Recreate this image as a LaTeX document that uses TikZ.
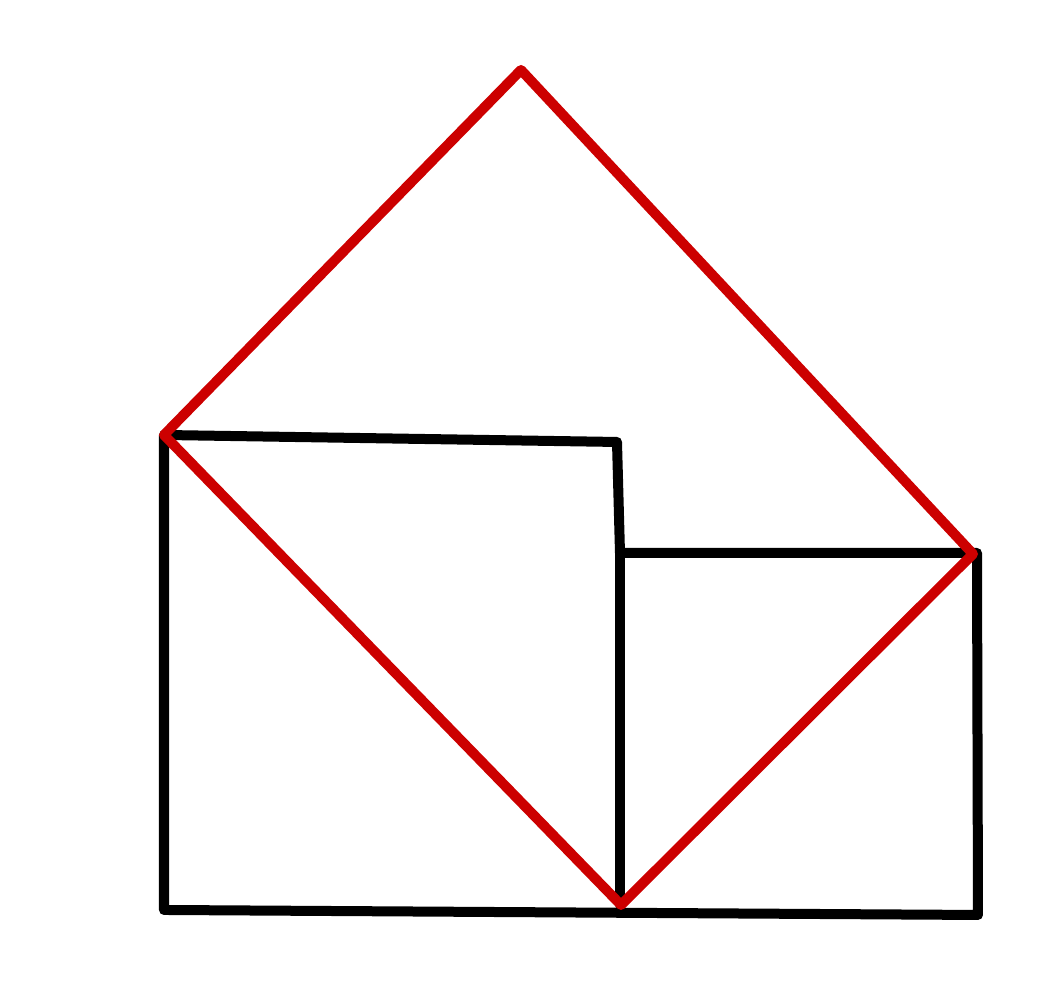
\documentclass[tikz,border=0pt]{standalone}
\usepackage{tikz}
\usetikzlibrary{
  calc
}
\tikzset{
  square edge/.style={
    line width=0.1cm, black, line join=round, line cap=round
  },
  tilted square/.style={
    line width=0.1cm, red!80!black, line join=round, line cap=round
  }
}

\begin{document}
\begin{tikzpicture}
\useasboundingbox (0,0) rectangle (10.38,10);
% corners of the two squares
\coordinate (topleft) at (1.64,5.65);
\coordinate (bend) at (6.17,5.58);
\coordinate (step) at (6.20,4.47);
\coordinate (rightcorner) at (9.77,4.47);
\coordinate (bottomright) at (9.78,0.85);
\coordinate (bottomleft) at (1.64,0.90);
\coordinate (middlefoot) at (6.20,0.95);
\coordinate (apex) at (5.21,9.30);
\coordinate (redright) at (9.73,4.46);
\coordinate (redfoot) at (6.21,0.95);
\draw [square edge] (topleft) -- (bend) -- (step) -- (rightcorner) -- (bottomright) -- (bottomleft) -- cycle;
\draw [square edge] (step) -- (middlefoot);
\draw [tilted square] (topleft) -- (apex) -- (redright) -- (redfoot) -- cycle;
\end{tikzpicture}
\end{document}
